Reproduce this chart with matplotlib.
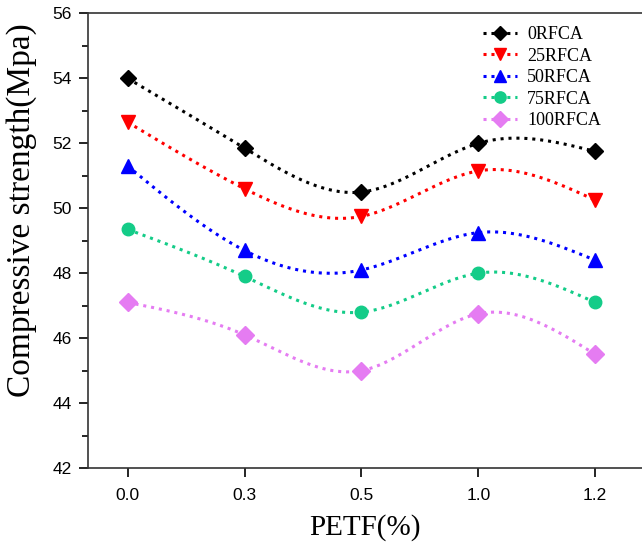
import numpy as np
import matplotlib
matplotlib.use("Agg")
import matplotlib.pyplot as plt

# data
petf_labels = ["0.0", "0.3", "0.5", "1.0", "1.2"]
series_names = ["0RFCA", "25RFCA", "50RFCA", "75RFCA", "100RFCA"]
rfca_0 = [54.0, 51.85, 50.5, 52.0, 51.75]
rfca_25 = [52.65, 50.6, 49.75, 51.15, 50.25]
rfca_50 = [51.3, 48.7, 48.1, 49.25, 48.4]
rfca_75 = [49.35, 47.9, 46.8, 48.0, 47.1]
rfca_100 = [47.1, 46.1, 45.0, 46.75, 45.5]

colors = ["black", "#ff0000", "#0000ff", "#14cc88", "#e57cf2"]
markers = ["D", "v", "^", "o", "D"]
msizes = [8, 10, 10, 9, 9]


def spline(x, y, n=200):
    # natural cubic spline through the points, for the smooth line only
    x = np.asarray(x, float)
    y = np.asarray(y, float)
    k = len(x)
    h = np.diff(x)
    A = np.zeros((k, k))
    b = np.zeros(k)
    A[0, 0] = 1
    A[-1, -1] = 1
    for i in range(1, k - 1):
        A[i, i - 1] = h[i - 1]
        A[i, i] = 2 * (h[i - 1] + h[i])
        A[i, i + 1] = h[i]
        b[i] = 3 * ((y[i + 1] - y[i]) / h[i] - (y[i] - y[i - 1]) / h[i - 1])
    c = np.linalg.solve(A, b)
    xs = np.linspace(x[0], x[-1], n)
    ys = np.empty_like(xs)
    for j, xv in enumerate(xs):
        i = min(np.searchsorted(x, xv, side="right") - 1, k - 2)
        dx = xv - x[i]
        bi = (y[i + 1] - y[i]) / h[i] - h[i] * (2 * c[i] + c[i + 1]) / 3
        di = (c[i + 1] - c[i]) / (3 * h[i])
        ys[j] = y[i] + bi * dx + c[i] * dx ** 2 + di * dx ** 3
    return xs, ys


fig = plt.figure(figsize=(6.42, 5.45), dpi=100)
ax = fig.add_axes([0.137, 0.1413, 0.863, 0.834])

xpos = np.arange(len(petf_labels))
all_series = [rfca_0, rfca_25, rfca_50, rfca_75, rfca_100]
for vals, name, col, mk, ms in zip(all_series, series_names, colors, markers, msizes):
    xs, ys = spline(xpos, vals)
    ax.plot(xs, ys, linestyle=(0, (1, 1.6)), color=col, linewidth=2.2)
    ax.plot(xpos, vals, linestyle="none", marker=mk, color=col, markersize=ms)
    # legend proxy
    ax.plot([], [], linestyle=(0, (1, 1.6)), linewidth=2.2, color=col,
            marker=mk, markersize=ms, label=name)

ax.set_xlim(-0.34, 4.40)
ax.set_ylim(42, 56)
ax.set_xticks(xpos)
ax.set_xticklabels(petf_labels)
ax.set_yticks(np.arange(42, 57, 2))
ax.set_yticks(np.arange(43, 56, 2), minor=True)

ax.spines["right"].set_visible(False)
for s in ["left", "bottom", "top"]:
    ax.spines[s].set_linewidth(1.2)
    ax.spines[s].set_color("#333333")
ax.tick_params(axis="both", direction="out", length=6.5, width=1.2,
               labelsize=12.5, pad=5)
ax.tick_params(axis="x", pad=8)
ax.tick_params(axis="y", which="minor", direction="out", length=4, width=1.2)
ax.tick_params(top=False, right=False)
for lab in ax.get_xticklabels() + ax.get_yticklabels():
    lab.set_fontfamily("Liberation Sans")

ax.set_xlabel("PETF(%)", fontsize=21, family="Liberation Serif", labelpad=8)
ax.set_ylabel("Compressive strength(Mpa)", fontsize=24, family="Liberation Serif")
ax.yaxis.set_label_coords(-0.092, 0.567)

handles, labels = ax.get_legend_handles_labels()
ax.legend(handles[:5], labels[:5], loc="upper left", bbox_to_anchor=(0.713, 0.972),
          frameon=False, prop={"family": "Liberation Serif", "size": 13},
          handlelength=1.9, handletextpad=0.55, labelspacing=0.25,
          borderpad=0, borderaxespad=0, markerscale=0.9)

fig.savefig("out.png", dpi=100)
